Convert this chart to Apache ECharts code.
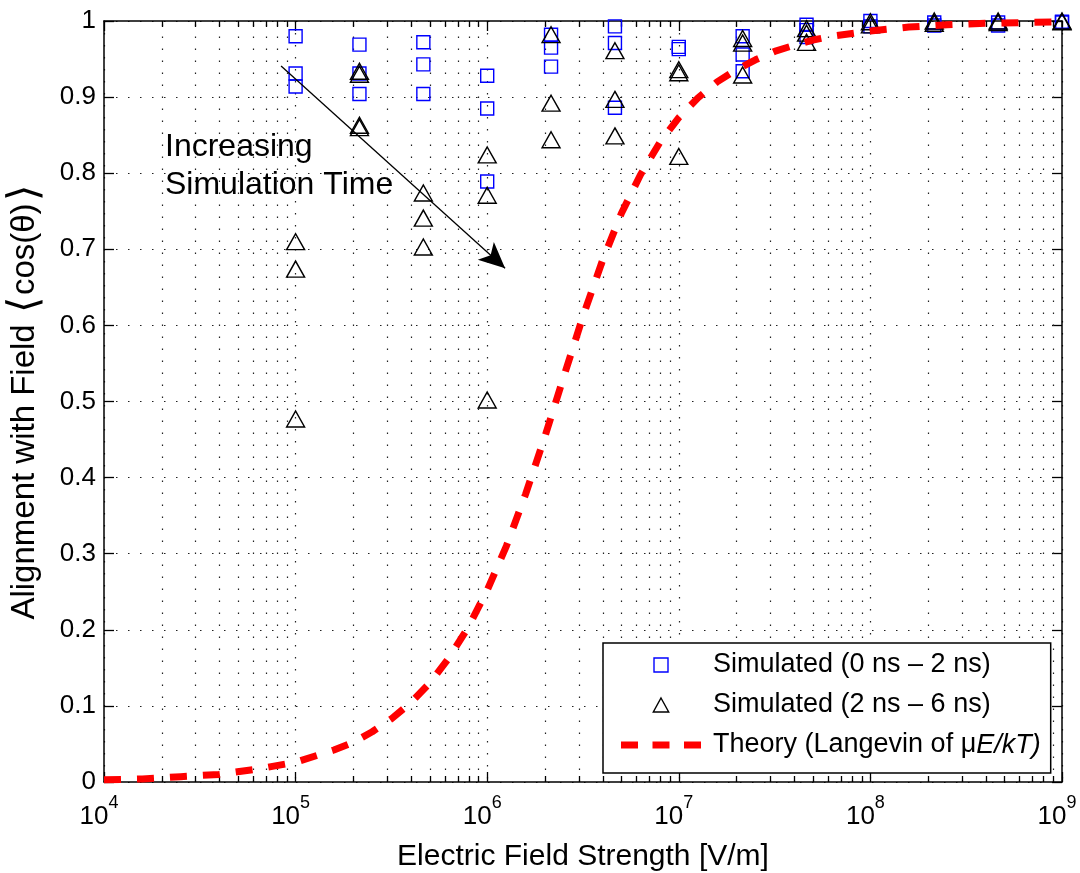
<!DOCTYPE html>
<html>
<head>
<meta charset="utf-8">
<script src="https://cdn.jsdelivr.net/npm/echarts@6/dist/echarts.min.js"></script>
<style>
  html, body { margin: 0; padding: 0; background: #fff; }
  #chart { width: 1080px; height: 873px; }
</style>
</head>
<body>
<div id="chart"></div>
<script>
// Field strengths (V/m) at which the simulations were run
const fieldLevels = [1e5, 2.154e5, 4.642e5, 1e6, 2.154e6, 4.642e6, 1e7, 2.154e7, 4.642e7, 1e8, 2.154e8, 4.642e8, 1e9];

// <cos(theta)> per run, averaged over 0-2 ns
const earlyRuns = [
  [0.980, 0.931, 0.914],
  [0.969, 0.931, 0.904],
  [0.972, 0.943, 0.904],
  [0.928, 0.885, 0.789],
  [0.982, 0.965, 0.940],
  [0.993, 0.971, 0.886],
  [0.966, 0.963],
  [0.980, 0.956, 0.934],
  [0.995, 0.988, 0.979],
  [1.000, 0.993],
  [0.998, 0.994],
  [0.998, 0.994],
  [0.999, 0.998]
];

// <cos(theta)> per run, averaged over 2-6 ns
const lateRuns = [
  [0.710, 0.674, 0.477],
  [0.934, 0.930, 0.863, 0.860],
  [0.774, 0.741, 0.703],
  [0.824, 0.771, 0.502],
  [0.982, 0.892, 0.844],
  [0.961, 0.897, 0.849],
  [0.936, 0.932, 0.822],
  [0.977, 0.971, 0.929],
  [0.990, 0.984, 0.972],
  [0.999, 0.995],
  [1.000, 0.997],
  [1.000, 0.998],
  [1.000, 0.999]
];

// Langevin curve samples
const theoryField = [1e4, 1.585e4, 2.512e4, 3.981e4, 6.310e4, 1e5, 1.585e5, 1.995e5, 2.512e5, 3.162e5,
  3.981e5, 5.012e5, 6.310e5, 7.943e5, 1e6, 1.259e6, 1.585e6, 1.995e6, 2.512e6, 3.162e6,
  3.981e6, 5.012e6, 6.310e6, 7.943e6, 1e7, 1.259e7, 1.585e7, 1.995e7, 2.512e7, 3.162e7,
  3.981e7, 5.012e7, 6.310e7, 1e8, 1.585e8, 2.512e8, 3.981e8, 6.310e8, 1e9];
const theoryAlignment = [0.003, 0.004, 0.007, 0.010, 0.017, 0.026, 0.042, 0.052, 0.066, 0.083,
  0.104, 0.130, 0.163, 0.203, 0.252, 0.310, 0.378, 0.453, 0.533, 0.612,
  0.684, 0.747, 0.798, 0.840, 0.873, 0.899, 0.920, 0.936, 0.949, 0.960,
  0.968, 0.975, 0.980, 0.987, 0.992, 0.995, 0.997, 0.998, 0.999];

// Annotation arrow (field, alignment): tail and tip
const arrowFrom = [8.4e4, 0.941];
const arrowTo = [1.24e6, 0.675];
const annotationLines = ['Increasing', 'Simulation Time'];

const seriesNames = ['Simulated (0 ns \u2013 2 ns)', 'Simulated (2 ns \u2013 6 ns)', 'Theory (Langevin of \u03bcE/kT)'];

const FONT = '"Liberation Sans", Arial, Helvetica, sans-serif';
const DOTTED = { color: '#222', width: 1.2, type: [1.5, 10.5] };

const toPoints = (levels, runs) => levels.flatMap((e, i) => runs[i].map(v => [e, v]));
const theoryPoints = theoryField.map((e, i) => [e, theoryAlignment[i]]);

// Minor decade positions (2..9 x 10^k) for the log axis ticks and grid
const minorPositions = [];
for (let d = 4; d < 9; d++) {
  for (let m = 2; m <= 9; m++) minorPositions.push([m * Math.pow(10, d), 0]);
}

const chart = echarts.init(document.getElementById('chart'), null, { renderer: 'canvas' });

const axisLineStyle = { color: '#000', width: 1.5 };
const tickStyle = { color: '#000', width: 1.3 };

chart.setOption({
  animation: false,
  backgroundColor: '#fff',
  textStyle: { fontFamily: FONT, color: '#000' },
  grid: { left: 104, right: 18, top: 21, bottom: 91, containLabel: false, outerBoundsMode: 'none' },
  xAxis: [
    {
      type: 'log', logBase: 10, min: 1e4, max: 1e9, splitNumber: 5, position: 'bottom',
      name: 'Electric Field Strength [V/m]', nameLocation: 'middle', nameGap: 60,
      nameTextStyle: { fontSize: 30, color: '#000', fontFamily: FONT },
      axisLine: { show: true, onZero: false, lineStyle: axisLineStyle },
      axisTick: { show: true, inside: true, length: 10, lineStyle: tickStyle },
      axisLabel: {
        margin: 12, color: '#000', hideOverlap: false, padding: [0, 10, 0, 0],
        formatter: v => '{b|10}{s|' + Math.round(Math.log10(v)) + '}',
        rich: {
          b: { fontSize: 26, fontFamily: FONT, color: '#000', lineHeight: 36, verticalAlign: 'bottom' },
          s: { fontSize: 18, fontFamily: FONT, color: '#000', verticalAlign: 'top' }
        }
      },
      splitLine: { show: true, lineStyle: DOTTED },
      minorTick: { show: false }, minorSplitLine: { show: false }
    },
    {
      type: 'log', logBase: 10, min: 1e4, max: 1e9, splitNumber: 5, position: 'top',
      axisLine: { show: true, onZero: false, lineStyle: axisLineStyle },
      axisTick: { show: true, inside: true, length: 10, lineStyle: tickStyle },
      axisLabel: { show: false },
      splitLine: { show: false }
    }
  ],
  yAxis: [
    {
      type: 'value', min: 0, max: 1, interval: 0.1, position: 'left',
      name: '{t|Alignment with Field }{br|\u27e8}{t|cos(\u03b8)}{br|\u27e9}',
      nameLocation: 'middle', nameGap: 58, nameRotate: 90,
      nameTextStyle: {
        fontSize: 33, color: '#000', fontFamily: FONT,
        rich: {
          t: { fontSize: 33, color: '#000', fontFamily: FONT },
          br: { fontSize: 42, color: '#000', fontFamily: FONT, padding: [0, 2, 0, 2] }
        }
      },
      axisLine: { show: true, onZero: false, lineStyle: axisLineStyle },
      axisTick: { show: true, inside: true, length: 10, lineStyle: tickStyle },
      axisLabel: { fontSize: 26, color: '#000', margin: 8, fontFamily: FONT, hideOverlap: false },
      splitLine: { show: true, lineStyle: DOTTED }
    },
    {
      type: 'value', min: 0, max: 1, interval: 0.1, position: 'right',
      axisLine: { show: true, onZero: false, lineStyle: axisLineStyle },
      axisTick: { show: true, inside: true, length: 10, lineStyle: tickStyle },
      axisLabel: { show: false },
      splitLine: { show: false }
    }
  ],
  legend: {
    orient: 'vertical', left: 603, top: 643,
    padding: [7, 10, 13, 18],
    itemWidth: 80, itemHeight: 14, itemGap: 10,
    backgroundColor: '#fff', borderColor: '#000', borderWidth: 1.5, borderRadius: 0,
    selectedMode: false, symbolKeepAspect: true,
    textStyle: {
      fontSize: 27, color: '#000', fontFamily: FONT, lineHeight: 30, padding: [0, 0, 0, 7],
      rich: {
        n: { fontSize: 27, color: '#000', fontFamily: FONT },
        i: { fontSize: 27, color: '#000', fontFamily: FONT, fontStyle: 'italic' }
      }
    },
    formatter: name => name === seriesNames[2]
      ? '{n|Theory (Langevin of \u03bc}{i|E/kT)}'
      : name,
    data: [
      { name: seriesNames[0], icon: 'path://M0,0H10V10H0Z',
        itemStyle: { color: 'rgba(0,0,0,0)', borderColor: '#0000ff', borderWidth: 1.4 } },
      { name: seriesNames[1], icon: 'path://M5.5,0L11,10L0,10Z',
        itemStyle: { color: 'rgba(0,0,0,0)', borderColor: '#000', borderWidth: 1.4 } },
      { name: seriesNames[2], icon: 'path://M0,0h17v7h-17z M31.5,0h17v7h-17z M63,0h17v7h-17z',
        itemStyle: { color: '#ff0000', borderWidth: 0 } }
    ]
  },
  graphic: [
    {
      type: 'text', left: 165, top: 128, z: 10, silent: true,
      style: { text: annotationLines.join('\n'), font: '32px ' + FONT, fill: '#000', lineHeight: 38 }
    }
  ],
  series: [
    {
      // minor ticks and dotted minor grid on the log axis
      type: 'custom', name: 'minor-decades', silent: true, z: 1, clip: false,
      xAxisIndex: 0, yAxisIndex: 0,
      data: minorPositions,
      renderItem(params, api) {
        const v = api.value(0);
        const b = api.coord([v, 0]);
        const t = api.coord([v, 1]);
        const x = Math.round(b[0]) + 0.5;
        return {
          type: 'group',
          children: [
            { type: 'line', shape: { x1: x, y1: b[1], x2: x, y2: t[1] },
              style: { stroke: DOTTED.color, lineWidth: DOTTED.width, lineDash: DOTTED.type } },
            { type: 'line', shape: { x1: x, y1: b[1], x2: x, y2: b[1] - 6 },
              style: { stroke: '#000', lineWidth: 1.3 } },
            { type: 'line', shape: { x1: x, y1: t[1], x2: x, y2: t[1] + 6 },
              style: { stroke: '#000', lineWidth: 1.3 } }
          ]
        };
      }
    },
    {
      name: seriesNames[0], type: 'scatter', xAxisIndex: 0, yAxisIndex: 0, z: 3,
      symbol: 'rect', symbolSize: 13,
      itemStyle: { color: 'rgba(0,0,0,0)', borderColor: '#0000ff', borderWidth: 1.4, opacity: 1 },
      emphasis: { disabled: true },
      data: toPoints(fieldLevels, earlyRuns)
    },
    {
      name: seriesNames[1], type: 'scatter', xAxisIndex: 0, yAxisIndex: 0, z: 4,
      symbol: 'triangle', symbolSize: [18, 16],
      itemStyle: { color: 'rgba(0,0,0,0)', borderColor: '#000', borderWidth: 1.4, opacity: 1 },
      emphasis: { disabled: true },
      data: toPoints(fieldLevels, lateRuns),
      markLine: {
        silent: true, symbol: ['none', 'arrow'], symbolSize: [18, 26],
        label: { show: false },
        lineStyle: { color: '#000', width: 1.3, type: 'solid' },
        itemStyle: { color: '#000' },
        emphasis: { disabled: true },
        animation: false,
        data: [[{ coord: arrowFrom }, { coord: arrowTo }]]
      }
    },
    {
      name: seriesNames[2], type: 'line', xAxisIndex: 0, yAxisIndex: 0, z: 5,
      symbol: 'none', showSymbol: false, smooth: false,
      itemStyle: { color: '#ff0000' },
      lineStyle: { color: '#ff0000', width: 7, type: [17, 16], cap: 'butt' },
      emphasis: { disabled: true },
      data: theoryPoints
    }
  ]
});
</script>
</body>
</html>
